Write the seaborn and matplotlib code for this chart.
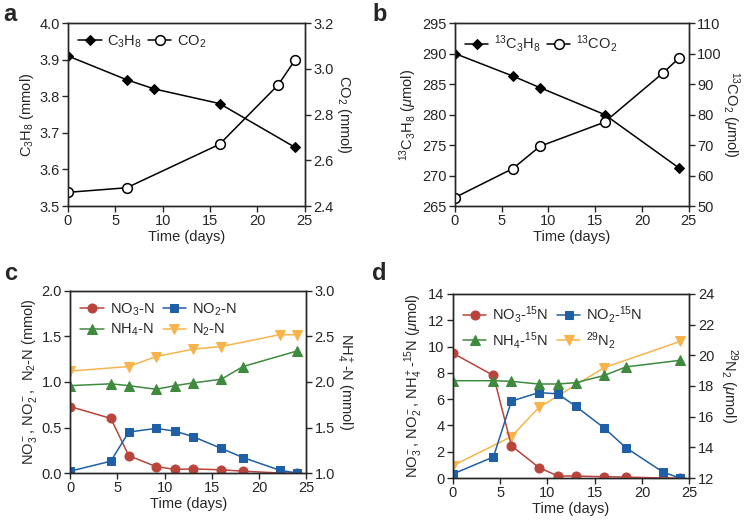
import numpy as np
import pandas as pd
import matplotlib
matplotlib.use("Agg")
import matplotlib.pyplot as plt
import seaborn as sns

sns.set_style("ticks")
plt.rcParams['font.family'] = ['Liberation Sans', 'DejaVu Sans']
plt.rcParams['mathtext.fontset'] = 'custom'
plt.rcParams['mathtext.rm'] = 'Liberation Sans'
plt.rcParams['mathtext.it'] = 'Liberation Sans:italic'
plt.rcParams['mathtext.bf'] = 'Liberation Sans:bold'
plt.rcParams['font.size'] = 10.5
plt.rcParams['axes.linewidth'] = 1.0
plt.rcParams['xtick.major.width'] = 1.0
plt.rcParams['ytick.major.width'] = 1.0
plt.rcParams['xtick.major.size'] = 4
plt.rcParams['ytick.major.size'] = 4

# --- panel a: C3H8 / CO2 (mmol)
a_c3h8_days = [0, 6.2, 9.1, 16, 24]
a_c3h8 = [3.91, 3.845, 3.82, 3.78, 3.66]
a_co2_days = [0, 6.2, 16, 22.2, 24]
a_co2 = [2.46, 2.48, 2.67, 2.93, 3.04]

# --- panel b: 13C3H8 / 13CO2 (umol)
b_c3h8_days = [0, 6.2, 9.1, 16, 24]
b_c3h8 = [290.0, 286.3, 284.4, 280.0, 271.2]
b_co2_days = [0, 6.2, 9.1, 16, 22.2, 24]
b_co2 = [52.8, 62.3, 69.6, 77.5, 93.5, 98.6]

# --- panel c: nitrogen species (mmol)
c_days = [0, 4.3, 6.2, 9.1, 11.1, 13, 16, 18.3, 22.2, 24]
c_no3 = [0.73, 0.60, 0.19, 0.07, 0.04, 0.045, 0.035, 0.02, 0.0, 0.0]
c_no2 = [0.02, 0.13, 0.45, 0.49, 0.46, 0.40, 0.27, 0.17, 0.03, 0.0]
c_nh4_days = [0, 4.3, 6.2, 9.1, 11.1, 13, 16, 18.3, 24]
c_nh4 = [1.96, 1.98, 1.96, 1.92, 1.96, 1.99, 2.03, 2.17, 2.34]
c_n2_days = [0, 6.2, 9.1, 13, 16, 22.2, 24]
c_n2 = [1.12, 1.17, 1.28, 1.36, 1.39, 1.52, 1.52]

# --- panel d: 15N species (umol)
d_days = [0, 4.3, 6.2, 9.1, 11.1, 13, 16, 18.3, 22.2, 24]
d_no3 = [9.5, 7.8, 2.45, 0.8, 0.15, 0.15, 0.1, 0.07, 0.0, 0.0]
d_no2 = [0.3, 1.6, 5.85, 6.5, 6.4, 5.45, 3.8, 2.3, 0.45, 0.0]
d_nh4_days = [0, 4.3, 6.2, 9.1, 11.1, 13, 16, 18.3, 24]
d_nh4 = [7.4, 7.4, 7.35, 7.15, 7.15, 7.25, 7.8, 8.45, 8.95]
d_n2_days = [0, 6.2, 9.1, 16, 24]
d_n2 = [12.8, 14.7, 16.6, 19.2, 20.9]

red = '#b9443c'
blue = '#1f5fa6'
green = '#3e8a3e'
orange = '#f8b44c'

fig = plt.figure(figsize=(7.47, 5.23), dpi=100)


def setup(ax, ylim, yticks):
    ax.set_xlim(0, 25)
    ax.set_xticks([0, 5, 10, 15, 20, 25])
    ax.set_ylim(*ylim)
    ax.set_yticks(yticks)
    ax.set_xlabel('Time (days)', labelpad=1)
    ax.tick_params(pad=2)


def twin(ax, ylim, yticks, label):
    ax2 = ax.twinx()
    ax2.set_ylim(*ylim)
    ax2.set_yticks(yticks)
    ax2.set_ylabel(label, rotation=270, labelpad=14)
    ax2.tick_params(pad=2)
    return ax2


# ---------- a
ax = fig.add_axes([0.091, 0.606, 0.317, 0.350])
sns.lineplot(x=a_c3h8_days, y=a_c3h8, ax=ax, color='k', marker='D', markersize=5,
             markeredgecolor='k', lw=1.1, legend=False)
setup(ax, (3.5, 4.0), np.arange(3.5, 4.01, 0.1))
ax.set_yticklabels([f'{v:.1f}' for v in np.arange(3.5, 4.01, 0.1)])
ax.set_ylabel('C$_3$H$_8$ (mmol)', labelpad=2)
ax2 = twin(ax, (2.4, 3.2), np.arange(2.4, 3.21, 0.2), 'CO$_2$ (mmol)')
ax2.set_yticklabels([f'{v:.1f}' for v in np.arange(2.4, 3.21, 0.2)])
sns.lineplot(x=a_co2_days, y=a_co2, ax=ax2, color='k', marker='o', markersize=7,
             markerfacecolor='white', markeredgecolor='k', markeredgewidth=1.1,
             lw=1.1, legend=False)
h = ax.get_lines()[:1] + ax2.get_lines()[:1]
ax.legend(h, ['C$_3$H$_8$', 'CO$_2$'], loc='upper left', ncol=2, frameon=False,
          handlelength=1.6, columnspacing=0.4, handletextpad=0.4,
          borderaxespad=0.3)
fig.text(0.005, 0.995, 'a', fontsize=17, fontweight='bold', va='top')

# ---------- b
ax = fig.add_axes([0.609, 0.606, 0.313, 0.350])
sns.lineplot(x=b_c3h8_days, y=b_c3h8, ax=ax, color='k', marker='D', markersize=5,
             markeredgecolor='k', lw=1.1, legend=False)
setup(ax, (265, 295), np.arange(265, 296, 5))
ax.set_ylabel('$^{13}$C$_3$H$_8$ ($\\mu$mol)', labelpad=2)
ax2 = twin(ax, (50, 110), np.arange(50, 111, 10), '$^{13}$CO$_2$ ($\\mu$mol)')
sns.lineplot(x=b_co2_days, y=b_co2, ax=ax2, color='k', marker='o', markersize=7,
             markerfacecolor='white', markeredgecolor='k', markeredgewidth=1.1,
             lw=1.1, legend=False)
h = ax.get_lines()[:1] + ax2.get_lines()[:1]
ax.legend(h, ['$^{13}$C$_3$H$_8$', '$^{13}$CO$_2$'], loc='upper left', ncol=2,
          frameon=False, handlelength=1.6, columnspacing=0.4, handletextpad=0.4,
          borderaxespad=0.3)
fig.text(0.498, 0.995, 'b', fontsize=17, fontweight='bold', va='top')

# ---------- c
ax = fig.add_axes([0.094, 0.0956, 0.316, 0.348])
ax2 = ax.twinx()
sns.lineplot(x=c_nh4_days, y=c_nh4, ax=ax2, color=green, marker='^', markersize=6.5,
             markeredgecolor=green, lw=1.1, legend=False)
sns.lineplot(x=c_days, y=c_no3, ax=ax, color=red, marker='o', markersize=6.5,
             markeredgecolor=red, lw=1.1, legend=False)
sns.lineplot(x=c_days, y=c_no2, ax=ax, color=blue, marker='s', markersize=6,
             markeredgecolor=blue, lw=1.1, legend=False)
sns.lineplot(x=c_n2_days, y=c_n2, ax=ax, color=orange, marker='v', markersize=6.5,
             markeredgecolor=orange, lw=1.1, legend=False)
setup(ax, (0, 2.0), np.arange(0, 2.01, 0.5))
ax.set_yticklabels([f'{v:.1f}' for v in np.arange(0, 2.01, 0.5)])
ax.set_ylabel('NO$_3^-$, NO$_2^-$,  N$_2$-N (mmol)', labelpad=2)
ax2.set_ylim(1, 3)
ax2.set_yticks([1.0, 1.5, 2.0, 2.5, 3.0])
ax2.set_yticklabels(['1.0', '1.5', '2.0', '2.5', '3.0'])
ax2.set_ylabel('NH$_4^+$-N (mmol)', rotation=270, labelpad=14)
ax2.tick_params(pad=2)
l = ax.get_lines()
g = ax2.get_lines()
ax.legend([l[0], g[0], l[1], l[2]], ['NO$_3$-N', 'NH$_4$-N', 'NO$_2$-N', 'N$_2$-N'],
          loc='upper left', ncol=2, frameon=False, handlelength=1.6,
          columnspacing=0.6, handletextpad=0.4, labelspacing=0.3,
          borderaxespad=0.3)
fig.text(0.005, 0.5, 'c', fontsize=17, fontweight='bold', va='top')

# ---------- d
ax = fig.add_axes([0.606, 0.086, 0.317, 0.352])
ax2 = ax.twinx()
sns.lineplot(x=d_n2_days, y=d_n2, ax=ax2, color=orange, marker='v', markersize=6.5,
             markeredgecolor=orange, lw=1.1, legend=False)
sns.lineplot(x=d_days, y=d_no3, ax=ax, color=red, marker='o', markersize=6.5,
             markeredgecolor=red, lw=1.1, legend=False)
sns.lineplot(x=d_days, y=d_no2, ax=ax, color=blue, marker='s', markersize=6,
             markeredgecolor=blue, lw=1.1, legend=False)
sns.lineplot(x=d_nh4_days, y=d_nh4, ax=ax, color=green, marker='^', markersize=6.5,
             markeredgecolor=green, lw=1.1, legend=False)
ax.set_zorder(ax2.get_zorder() + 1)
ax.patch.set_visible(False)
setup(ax, (0, 14), np.arange(0, 15, 2))
ax.set_ylabel('NO$_3^-$, NO$_2^-$, NH$_4^+$-$^{15}$N ($\\mu$mol)', labelpad=2)
ax2.set_ylim(12, 24)
ax2.set_yticks(np.arange(12, 25, 2))
ax2.set_ylabel('$^{29}$N$_2$ ($\\mu$mol)', rotation=270, labelpad=18)
ax2.tick_params(pad=2)
l = ax.get_lines()
o = ax2.get_lines()
ax.legend([l[0], l[2], l[1], o[0]],
          ['NO$_3$-$^{15}$N', 'NH$_4$-$^{15}$N', 'NO$_2$-$^{15}$N', '$^{29}$N$_2$'],
          loc='upper left', ncol=2, frameon=False, handlelength=1.6,
          columnspacing=0.6, handletextpad=0.4, labelspacing=0.3,
          borderaxespad=0.3)
fig.text(0.498, 0.5, 'd', fontsize=17, fontweight='bold', va='top')

fig.savefig('out.png', dpi=100)
